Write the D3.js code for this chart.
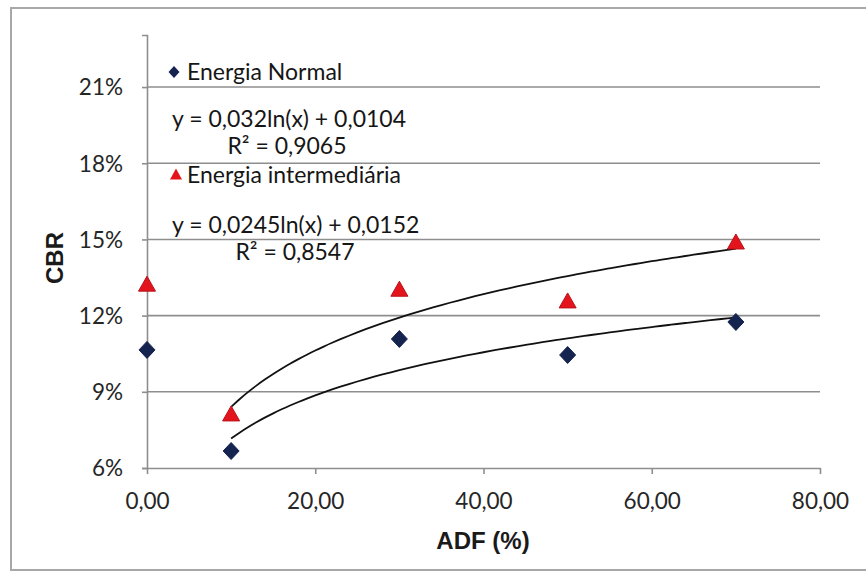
<!DOCTYPE html>
<html>
<head>
<meta charset="utf-8">
<script src="https://cdn.jsdelivr.net/npm/d3@7/dist/d3.min.js"></script>
<style>
  html, body { margin: 0; padding: 0; background: #fff; }
  svg { display: block; }
  .tick-label { font-family: Lato, "Open Sans", sans-serif; fill: #262626; }
  .axis-title { font-family: "Liberation Sans", Arial, sans-serif; font-weight: bold; fill: #1a1a1a; }
  .note { font-family: Lato, "Open Sans", sans-serif; fill: #161616; }
</style>
</head>
<body>
<svg id="chart" width="866" height="580"></svg>
<script>
// ADF content (%) for each sample
const adf = [0, 10, 30, 50, 70];
// CBR results (fraction) for the two compaction energies
const cbrNormal = [0.1065, 0.0667, 0.1108, 0.1045, 0.1175];
const cbrIntermediaria = [0.1320, 0.0809, 0.1300, 0.1254, 0.1486];
const seriesNames = ["Energia Normal", "Energia intermediária"];

// Logarithmic trend lines y = a·ln(x) + b, in the order they are labelled
const trendSlopes = [0.032, 0.0245];
const trendIntercepts = [0.0104, 0.0152];
const trendR2 = [0.9065, 0.8547];
const trendRange = [10, 70];

const xTicks = [0, 20, 40, 60, 80];
const yTicks = [0.06, 0.09, 0.12, 0.15, 0.18, 0.21];

const svg = d3.select("#chart");

// Outer frame
svg.append("rect")
  .attr("x", 11).attr("y", 8).attr("width", 870).attr("height", 562)
  .attr("fill", "none").attr("stroke", "#a8a8a8").attr("stroke-width", 2);

const x = d3.scaleLinear().domain([0, 80]).range([147, 820]);
const y = d3.scaleLinear().domain([0.06, 0.2305]).range([468, 35]);

const comma = v => v.toFixed(2).replace(".", ",");
const pct = v => Math.round(v * 100) + "%";

// Horizontal gridlines
svg.append("g")
  .selectAll("line")
  .data(yTicks.filter(t => t > 0.06))
  .join("line")
  .attr("x1", x(0)).attr("x2", x(80))
  .attr("y1", d => y(d)).attr("y2", d => y(d))
  .attr("stroke", "#8e8e8e").attr("stroke-width", 1.6);

// Y axis
const yAxis = svg.append("g")
  .attr("transform", `translate(${x(0)},0)`)
  .call(d3.axisLeft(y).tickValues(yTicks).tickFormat(pct).tickSize(5).tickPadding(19));
yAxis.select(".domain").attr("stroke", "#8e8e8e").attr("stroke-width", 1.6);
yAxis.selectAll(".tick line").attr("stroke", "#8e8e8e").attr("stroke-width", 1.6);
yAxis.selectAll(".tick text").attr("class", "tick-label").attr("font-size", 22.5).attr("dy", "0.35em");

// X axis
const xAxis = svg.append("g")
  .attr("transform", `translate(0,${y(0.06)})`)
  .call(d3.axisBottom(x).tickValues(xTicks).tickFormat(comma).tickSizeInner(6).tickSizeOuter(0).tickPadding(19));
xAxis.select(".domain").attr("stroke", "#8e8e8e").attr("stroke-width", 1.6);
xAxis.selectAll(".tick line").attr("stroke", "#8e8e8e").attr("stroke-width", 1.6);
xAxis.selectAll(".tick text").attr("class", "tick-label").attr("font-size", 22.5);

// Axis titles
svg.append("text").attr("class", "axis-title")
  .attr("x", 483).attr("y", 549).attr("text-anchor", "middle").attr("font-size", 24)
  .text("ADF (%)");
svg.append("text").attr("class", "axis-title")
  .attr("transform", "translate(63,258) rotate(-90)")
  .attr("text-anchor", "middle").attr("font-size", 24)
  .text("CBR");

// Trend curves
const line = d3.line().x(d => x(d[0])).y(d => y(d[1])).curve(d3.curveBasis);
trendSlopes.forEach((a, i) => {
  const pts = d3.range(trendRange[0], trendRange[1] + 0.5, 1)
    .map(v => [v, a * Math.log(v) + trendIntercepts[i]]);
  svg.append("path").attr("d", line(pts))
    .attr("fill", "none").attr("stroke", "#111").attr("stroke-width", 1.8);
});

// Marker shapes: a near-square diamond and an upward triangle
const diamondPath = (w, h) => `M0,${-h / 2}L${w / 2},0L0,${h / 2}L${-w / 2},0Z`;
const trianglePath = (w, h) => `M0,${-h * 0.6}L${w / 2},${h * 0.4}L${-w / 2},${h * 0.4}Z`;

svg.append("g").selectAll("path")
  .data(adf.map((v, i) => [v, cbrIntermediaria[i]]))
  .join("path")
  .attr("d", trianglePath(17, 15))
  .attr("transform", d => `translate(${x(d[0])},${y(d[1])})`)
  .attr("fill", "#e3141c").attr("stroke", "#b8121a").attr("stroke-width", 1);

svg.append("g").selectAll("path")
  .data(adf.map((v, i) => [v, cbrNormal[i]]))
  .join("path")
  .attr("d", diamondPath(16, 17))
  .attr("transform", d => `translate(${x(d[0])},${y(d[1])})`)
  .attr("fill", "#15234f").attr("stroke", "#15234f").attr("stroke-width", 1);

// Legend entries and trend equations
const fmt = (v, n) => v.toFixed(n).replace(".", ",");
const eq = i => `y = ${fmt(trendSlopes[i], String(trendSlopes[i]).split(".")[1].length)}ln(x) + ${fmt(trendIntercepts[i], 4)}`;
const r2 = i => `R² = ${fmt(trendR2[i], 4)}`;
const fs = 23;

svg.append("path").attr("d", diamondPath(11, 12))
  .attr("transform", "translate(174,72)").attr("fill", "#15234f");
svg.append("text").attr("class", "note").attr("x", 187).attr("y", 72).attr("dy", "0.35em")
  .attr("font-size", fs).text(seriesNames[0]);
svg.append("text").attr("class", "note").attr("x", 172).attr("y", 119).attr("dy", "0.35em")
  .attr("font-size", fs).text(eq(0));
svg.append("text").attr("class", "note").attr("x", 287).attr("y", 146).attr("dy", "0.35em")
  .attr("text-anchor", "middle").attr("font-size", fs).text(r2(0));

svg.append("path").attr("d", trianglePath(12, 11))
  .attr("transform", "translate(176,175)").attr("fill", "#e3141c");
svg.append("text").attr("class", "note").attr("x", 187).attr("y", 175).attr("dy", "0.35em")
  .attr("font-size", fs).text(seriesNames[1]);
svg.append("text").attr("class", "note").attr("x", 172).attr("y", 225).attr("dy", "0.35em")
  .attr("font-size", fs).text(eq(1));
svg.append("text").attr("class", "note").attr("x", 295).attr("y", 252).attr("dy", "0.35em")
  .attr("text-anchor", "middle").attr("font-size", fs).text(r2(1));
</script>
</body>
</html>
